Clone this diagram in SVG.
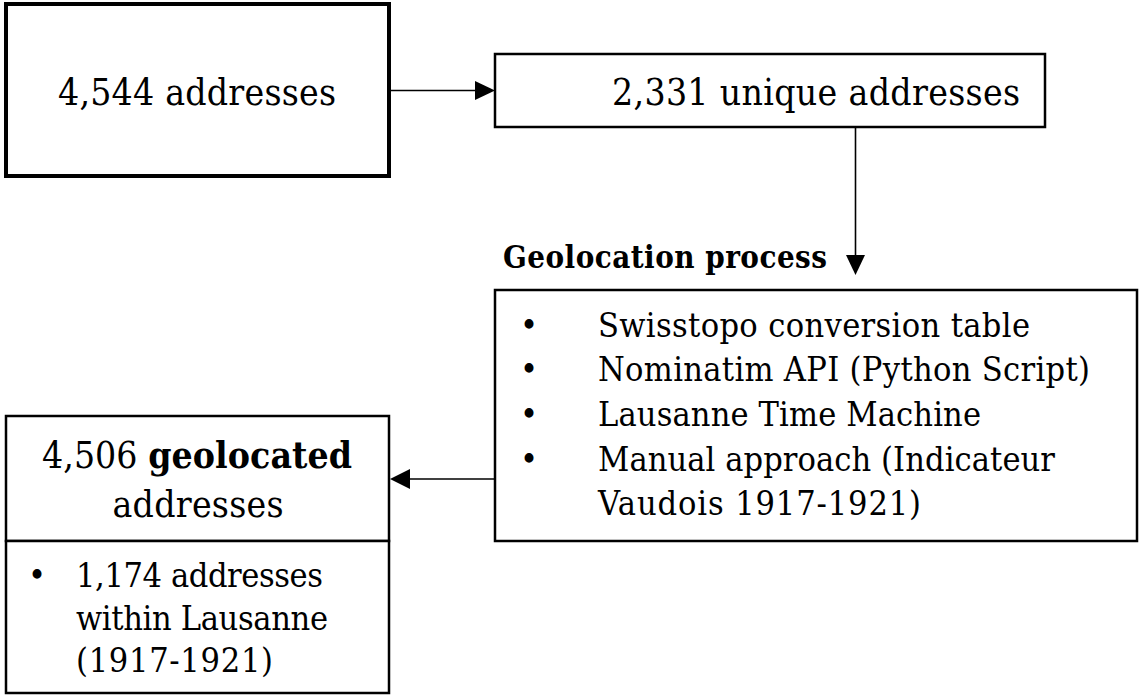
<svg xmlns="http://www.w3.org/2000/svg" width="1140" height="698" viewBox="0 0 1140 698">
<style>
.box{fill:#fff;stroke:#000;stroke-width:2.5}
.thick{stroke-width:4}
.t{font-family:"DejaVu Serif Condensed","DejaVu Serif","Liberation Serif",serif;font-stretch:condensed;fill:#000}
.big{font-size:37px}
.mid{font-size:34px}
.b{font-weight:bold}
.conn{stroke:#000;stroke-width:1.6;fill:none}
.head{fill:#000}
</style>
<rect width="1140" height="698" fill="#fff"/>
<g id="connectors">
<line class="conn" x1="391" y1="90.5" x2="477" y2="90.5"/>
<polygon class="head" points="475,81 495,90.5 475,100"/>
<line class="conn" x1="855.5" y1="127" x2="855.5" y2="257"/>
<polygon class="head" points="846,255 865,255 855.5,275"/>
<line class="conn" x1="495" y1="479" x2="408" y2="479"/>
<polygon class="head" points="410,469 390,479 410,489"/>
</g>
<g id="n1">
<rect class="box thick" x="6" y="4" width="383" height="172"/>
<text class="t big" x="197" y="105" text-anchor="middle" textLength="278">4,544 addresses</text>
</g>
<g id="n2">
<rect class="box" x="495" y="54" width="550" height="73"/>
<text class="t big" x="612" y="105" textLength="408">2,331 unique addresses</text>
</g>
<g id="label">
<text class="t b" style="font-size:31px" x="503" y="268" textLength="324">Geolocation process</text>
</g>
<g id="n3">
<rect class="box" x="495" y="290" width="642" height="251"/>
<g class="t mid">
<text x="520" y="337">•</text><text x="598" y="337" textLength="432">Swisstopo conversion table</text>
<text x="520" y="381">•</text><text x="598" y="381" textLength="492">Nominatim API (Python Script)</text>
<text x="520" y="426">•</text><text x="598" y="426" textLength="383">Lausanne Time Machine</text>
<text x="520" y="471">•</text><text x="598" y="471" textLength="457">Manual approach (Indicateur</text>
<text x="598" y="515" textLength="323">Vaudois 1917-1921)</text>
</g>
</g>
<g id="n4">
<rect class="box" x="6" y="416" width="383" height="125"/>
<rect class="box" x="6" y="541" width="383" height="152"/>
<text class="t big" x="197" y="468" text-anchor="middle" textLength="310">4,506 <tspan class="b">geolocated</tspan></text>
<text class="t big" x="198" y="517" text-anchor="middle" textLength="171">addresses</text>
<g class="t mid">
<text x="28" y="587">•</text><text x="76" y="587" textLength="247">1,174 addresses</text>
<text x="76" y="630" textLength="252">within Lausanne</text>
<text x="76" y="672" textLength="197">(1917-1921)</text>
</g>
</g>
</svg>
